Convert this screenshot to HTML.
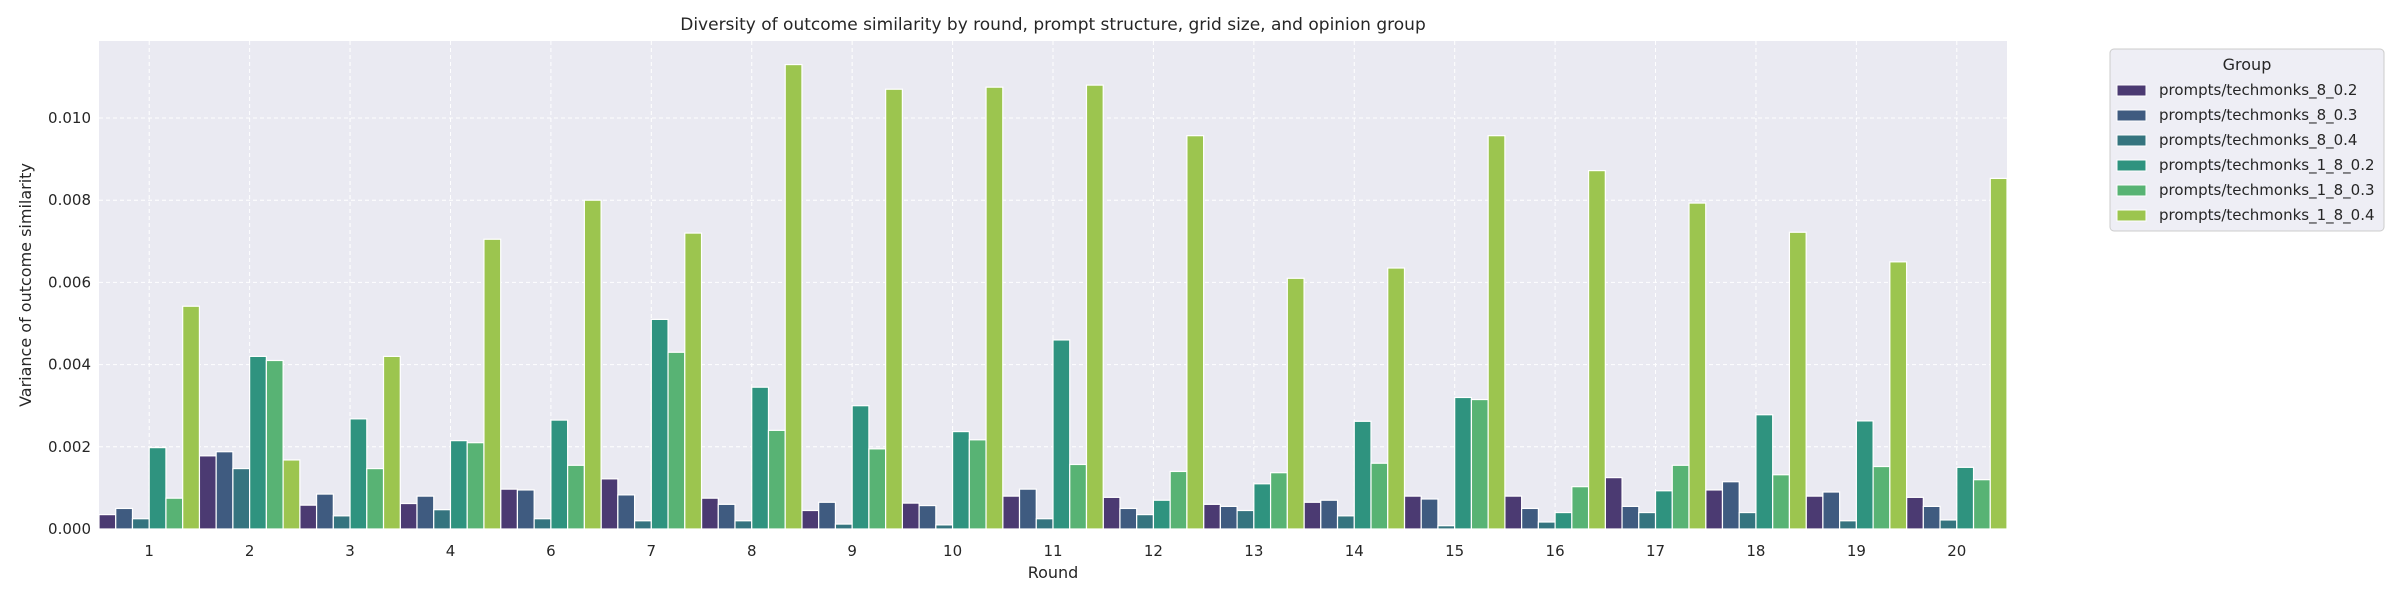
<!DOCTYPE html>
<html><head><meta charset="utf-8"><style>
body{margin:0;background:#fff;}
svg{display:block;font-family:"DejaVu Sans","Liberation Sans",sans-serif;}
</style></head><body>
<svg id="chart" width="2400" height="600" xmlns="http://www.w3.org/2000/svg"></svg>
<script>
const categories = ["1","2","3","4","6","7","8","9","10","11","12","13","14","15","16","17","18","19","20"];
const groups = ["prompts/techmonks_8_0.2","prompts/techmonks_8_0.3","prompts/techmonks_8_0.4","prompts/techmonks_1_8_0.2","prompts/techmonks_1_8_0.3","prompts/techmonks_1_8_0.4"];
const s_8_02 = [0.00035,0.00178,0.00058,0.00062,0.00097,0.00122,0.00075,0.00045,0.00063,0.0008,0.00077,0.0006,0.00065,0.0008,0.0008,0.00125,0.00095,0.0008,0.00077];
const s_8_03 = [0.0005,0.00188,0.00085,0.0008,0.00095,0.00083,0.0006,0.00065,0.00057,0.00097,0.0005,0.00055,0.0007,0.00073,0.0005,0.00055,0.00115,0.0009,0.00055];
const s_8_04 = [0.00025,0.00147,0.00032,0.00047,0.00025,0.0002,0.0002,0.00012,0.0001,0.00025,0.00035,0.00045,0.00032,0.00008,0.00017,0.0004,0.0004,0.0002,0.00022];
const s_18_02 = [0.00198,0.0042,0.00268,0.00215,0.00265,0.0051,0.00345,0.003,0.00237,0.0046,0.0007,0.0011,0.00262,0.0032,0.0004,0.00093,0.00278,0.00263,0.0015];
const s_18_03 = [0.00075,0.0041,0.00147,0.0021,0.00155,0.0043,0.0024,0.00195,0.00217,0.00157,0.0014,0.00137,0.0016,0.00315,0.00103,0.00155,0.00132,0.00152,0.0012];
const s_18_04 = [0.00542,0.00168,0.0042,0.00705,0.008,0.0072,0.0113,0.0107,0.01075,0.0108,0.00957,0.0061,0.00635,0.00957,0.00872,0.00793,0.00722,0.0065,0.00853];
const series = [s_8_02,s_8_03,s_8_04,s_18_02,s_18_03,s_18_04];
const yTicks = [0,0.002,0.004,0.006,0.008,0.010];
const yTickLabels = ["0.000","0.002","0.004","0.006","0.008","0.010"];
const colors = ["#4b3a72","#3f5b80","#35747f","#2f937f","#58b374","#9cc54f"];

const NS="http://www.w3.org/2000/svg";
const svg=document.getElementById('chart');
const L=99,R=2007,T=41,B=529;
const yMax=(B-T)/41100;
const band=(R-L)/categories.length;
function x(i){return L+band*i;}
function y(v){return B-(v/yMax)*(B-T);}
function mk(tag,attrs,parent){const e=document.createElementNS(NS,tag);for(const k in attrs)e.setAttribute(k,attrs[k]);(parent||svg).appendChild(e);return e;}

const bg=mk('rect',{x:L,y:T,width:R-L,height:B-T,fill:'#eaeaf2'});


const grid=mk('g',{stroke:'#ffffff','stroke-width':1,'stroke-dasharray':'4,3'});


yTicks.forEach((t,i)=>{
  mk('line',{x1:L,x2:R,y1:y(t),y2:y(t)},grid);
  const tx=mk('text',{x:L-8,y:y(t)+5,'text-anchor':'end','font-size':15,fill:'#262626'});
  tx.textContent=yTickLabels[i];
  
  
});
categories.forEach((c,i)=>{
  const cx=x(i)+band/2;
  mk('line',{x1:cx,x2:cx,y1:T,y2:B},grid);
  const tx=mk('text',{x:cx,y:556,'text-anchor':'middle','font-size':15,fill:'#262626'});
  tx.textContent=c;
  
  
});
const bw=band/groups.length;
series.forEach((s,g)=>{
  const gg=mk('g',{fill:colors[g],stroke:'#ffffff','stroke-width':1.2});
  
  
  s.forEach((v,i)=>{
    const r=mk('rect',{x:x(i)+g*bw,y:y(v),width:bw,height:B-y(v)},gg);
    
    
  });
});
const title=mk('text',{x:(L+R)/2,y:30,'text-anchor':'middle','font-size':17,fill:'#262626'});
title.textContent='Diversity of outcome similarity by round, prompt structure, grid size, and opinion group';


const xl=mk('text',{x:(L+R)/2,y:578,'text-anchor':'middle','font-size':16,fill:'#262626'});
xl.textContent='Round';


const yl=mk('text',{x:0,y:0,'text-anchor':'middle','font-size':16,fill:'#262626',transform:'translate(31,'+((T+B)/2)+') rotate(-90)'});
yl.textContent='Variance of outcome similarity';



const lg=mk('g',{});


mk('rect',{x:2110,y:49,width:274,height:182,rx:4,fill:'#eaeaf2','fill-opacity':0.8,stroke:'#cccccc'},lg);
const lt=mk('text',{x:2247,y:70,'text-anchor':'middle','font-size':16,fill:'#262626'},lg);
lt.textContent='Group';


groups.forEach((gname,g)=>{
  const yy=90+g*25;
  const e=mk('g',{},lg);
  
  
  mk('rect',{x:2117,y:yy-5,width:29,height:11,fill:colors[g],stroke:'#fff','stroke-width':1},e);
  const t=mk('text',{x:2159,y:yy+5,'font-size':15,fill:'#262626'},e);
  t.textContent=gname;
});
</script>
</body></html>
